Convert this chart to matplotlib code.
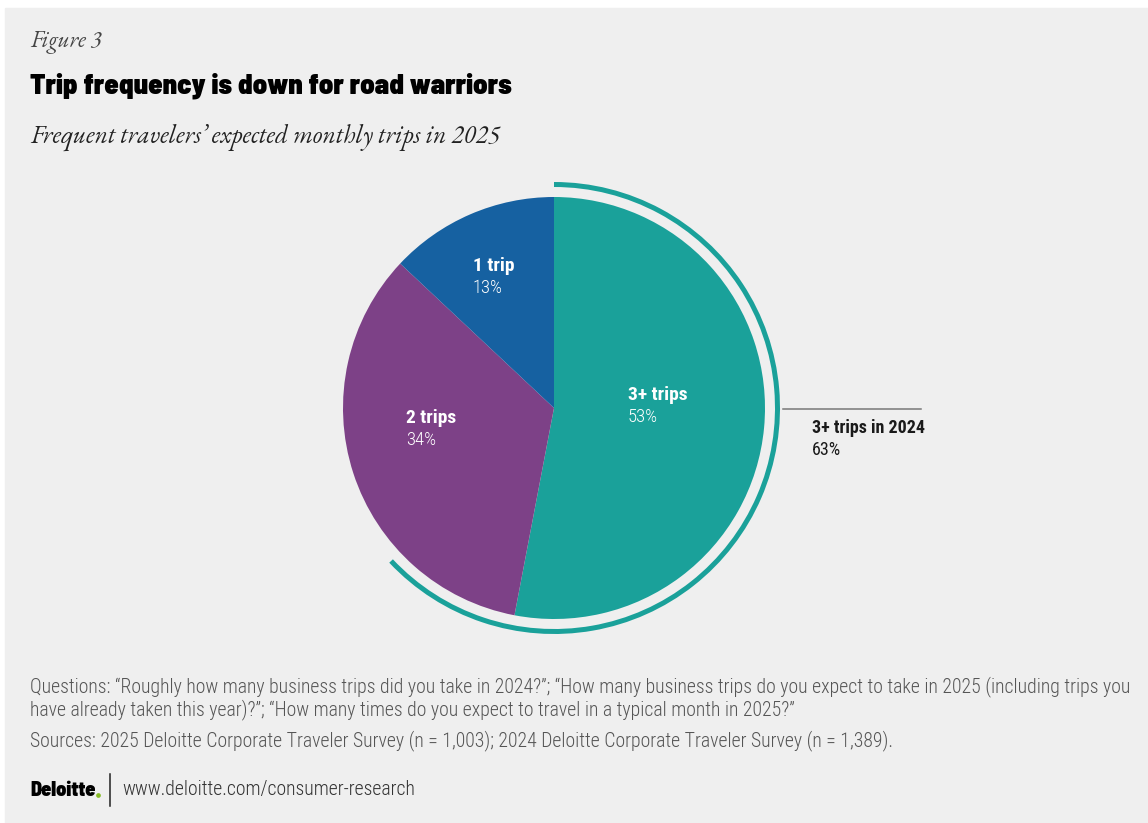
import matplotlib
matplotlib.use("Agg")
import matplotlib.pyplot as plt
from matplotlib.patches import Rectangle, Wedge

# Data
categories = ["3+ trips", "2 trips", "1 trip"]
shares_2025 = [53, 34, 13]
share_3plus_2024 = 63
colors = ["#1aa19a", "#7d4187", "#1661a1"]

W, H = 1148, 823
fig = plt.figure(figsize=(W / 100, H / 100), dpi=100, facecolor="white")

# Background panel (pixel coordinates)
bg = fig.add_axes([0, 0, 1, 1])
bg.set_xlim(0, W)
bg.set_ylim(H, 0)
bg.axis("off")
bg.add_patch(Rectangle((5, 8), W - 5, H - 8, color="#efefef", zorder=0))

# Pie chart
cx, cy, r = 554, 408, 211
lim = 1.12
side = 2 * lim * r
pax = fig.add_axes([(cx - side / 2) / W, (H - cy - side / 2) / H, side / W, side / H])
pax.pie(shares_2025, colors=colors, startangle=90, counterclock=False,
        radius=1.0, wedgeprops=dict(linewidth=0))
pax.set_xlim(-lim, lim)
pax.set_ylim(-lim, lim)
pax.set_aspect("equal")
pax.axis("off")

# 2024 reference arc around the pie
arc_r = 226 / r
arc_w = 5 / r
sweep = 360 * share_3plus_2024 / 100
pax.add_patch(Wedge((0, 0), arc_r, 90 - sweep, 90, width=arc_w,
                    color=colors[0], linewidth=0))

# Text layer on top (pixel coordinates)
ov = fig.add_axes([0, 0, 1, 1])
ov.set_xlim(0, W)
ov.set_ylim(H, 0)
ov.axis("off")
ov.patch.set_alpha(0)

cond = ["Roboto Condensed", "DejaVu Sans"]
heavy = ["Barlow Semi Condensed", "Roboto Condensed", "DejaVu Sans"]
serif = ["EB Garamond", "Liberation Serif", "DejaVu Serif"]

ov.text(30, 42, "Figure 3", family=serif, style="italic", fontsize=16.5,
        color="#444444", va="center", ha="left")
ov.text(30, 86, "Trip frequency is down for road warriors", family=heavy,
        weight=900, fontsize=20.5, color="#000000", va="center", ha="left")
ov.text(30, 137, "Frequent travelers\u2019 expected monthly trips in 2025",
        family=serif, style="italic", fontsize=18.2, color="#222222",
        va="center", ha="left")

# Slice labels
slice_labels = [(628, 395), (406, 418), (473, 266)]
for (x, y), name, val in zip(slice_labels, categories, shares_2025):
    ov.text(x, y, name, family=cond, weight="bold", fontsize=14,
            color="white", va="center", ha="left")
    ov.text(x, y + 22, f"{val}%", family=cond, weight=300, fontsize=13.5,
            color="white", va="center", ha="left")

# Leader and 2024 annotation
ov.plot([783, 921], [409, 409], color="#777777", lw=1.1)
ov.text(812, 428, "3+ trips in 2024", family=cond, weight="bold",
        fontsize=13, color="#1a1a1a", va="center", ha="left")
ov.text(812, 450, f"{share_3plus_2024}%", family=cond, fontsize=13,
        color="#1a1a1a", va="center", ha="left")

# Notes
note_color = "#555555"
note_kw = dict(family=cond, weight=300, fontsize=14.2, color=note_color,
               va="center", ha="left")
ov.text(30, 687, "Questions: \u201cRoughly how many business trips did you take in 2024?\u201d; "
        "\u201cHow many business trips do you expect to take in 2025 (including trips you",
        **note_kw)
ov.text(30, 710, "have already taken this year)?\u201d; \u201cHow many times do you expect to "
        "travel in a typical month in 2025?\u201d", **note_kw)
ov.text(30, 741, "Sources: 2025 Deloitte Corporate Traveler Survey (n = 1,003); "
        "2024 Deloitte Corporate Traveler Survey (n = 1,389).", **note_kw)

# Footer brand
t = ov.text(30, 790, "Deloitte", family=heavy, weight=900, fontsize=14.5,
            color="#000000", va="center", ha="left")
fig.canvas.draw()
bb = t.get_window_extent()
x_end = bb.x1
ov.plot([x_end + 2.5], [795], marker="o", ms=3.4, color="#86bc25", mec="none")
ov.plot([110, 110], [774, 806], color="#222222", lw=1.1)
ov.text(122, 790, "www.deloitte.com/consumer-research", family=cond,
        weight=300, fontsize=14.2, color="#333333", va="center", ha="left")

fig.savefig("out.png", dpi=100, facecolor=fig.get_facecolor())
